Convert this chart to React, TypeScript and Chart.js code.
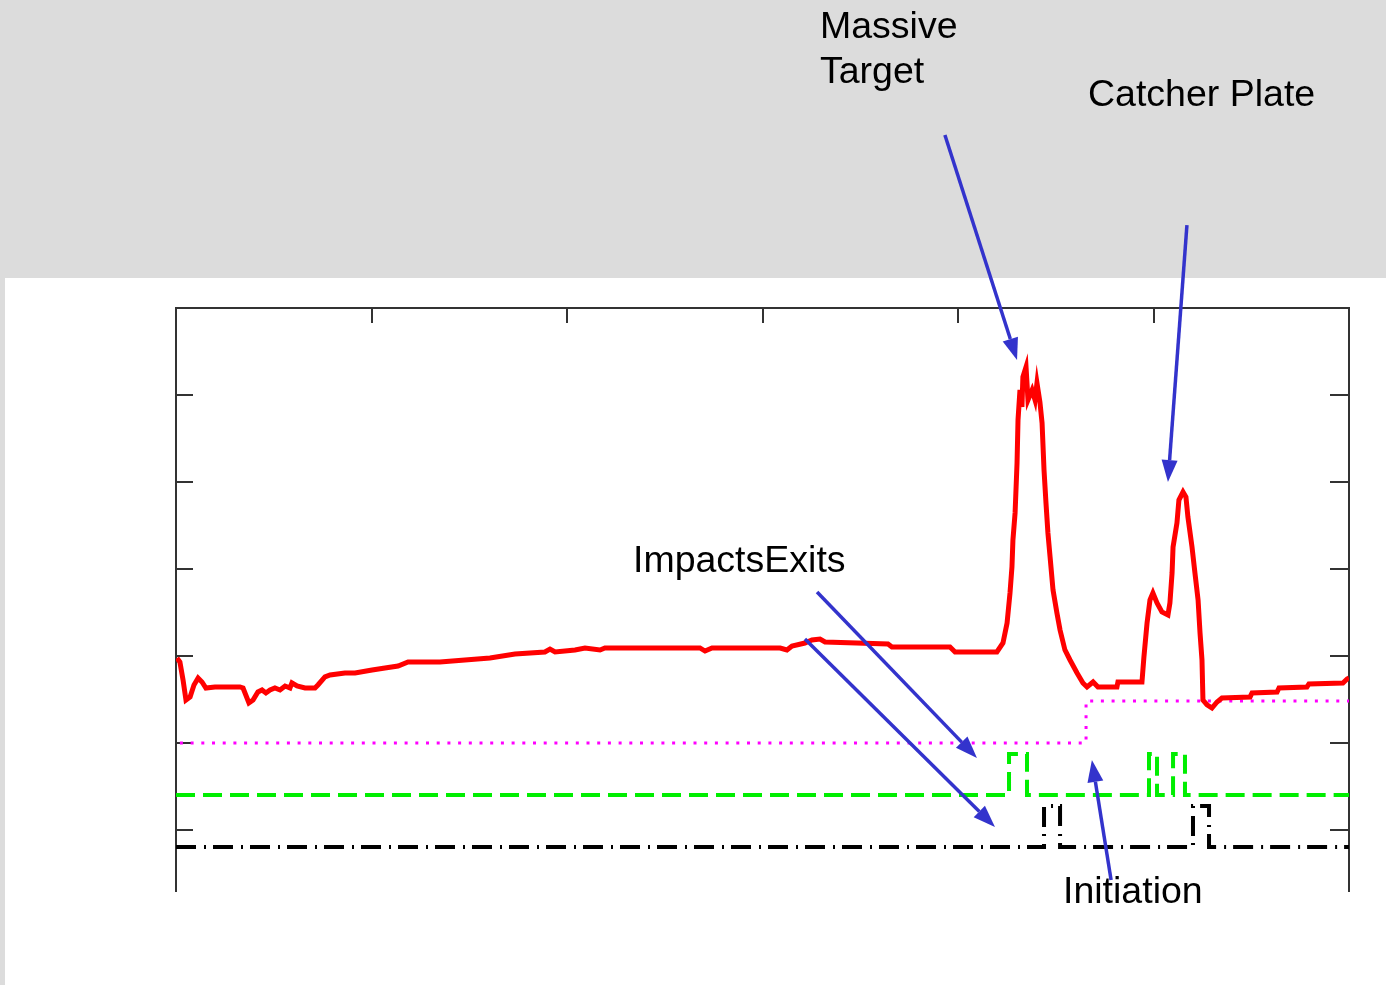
import React, { useEffect, useRef } from "react";
import { Chart, registerables } from "chart.js";

Chart.register(...registerables);

// ---- data (x: time units, y: signal units) ----
const redX = [0.005, 0.02, 0.036, 0.051, 0.072, 0.092, 0.113, 0.133, 0.153, 0.199, 0.327, 0.343, 0.373, 0.394, 0.419, 0.44, 0.46, 0.481, 0.506, 0.532, 0.558, 0.583, 0.593, 0.619, 0.66, 0.711, 0.726, 0.762, 0.788, 0.864, 0.916, 1.003, 1.069, 1.136, 1.187, 1.35, 1.478, 1.606, 1.734, 1.887, 1.913, 1.939, 2.041, 2.092, 2.169, 2.194, 2.68, 2.706, 2.742, 3.09, 3.125, 3.151, 3.217, 3.253, 3.294, 3.32, 3.642, 3.662, 3.959, 3.985, 4.199, 4.23, 4.251, 4.266, 4.276, 4.281, 4.292, 4.302, 4.307, 4.317, 4.327, 4.332, 4.348, 4.358, 4.379, 4.394, 4.404, 4.419, 4.43, 4.44, 4.45, 4.46, 4.471, 4.486, 4.506, 4.522, 4.547, 4.573, 4.609, 4.639, 4.66, 4.691, 4.716, 4.813, 4.818, 4.941, 4.951, 4.967, 4.982, 4.997, 5.018, 5.043, 5.074, 5.084, 5.095, 5.1, 5.12, 5.13, 5.151, 5.166, 5.176, 5.197, 5.212, 5.228, 5.238, 5.248, 5.253, 5.274, 5.299, 5.325, 5.35, 5.494, 5.504, 5.632, 5.642, 5.785, 5.795, 5.969, 5.99, 6.0];
const redY = [2.977, 2.931, 2.724, 2.494, 2.529, 2.667, 2.747, 2.701, 2.632, 2.644, 2.644, 2.632, 2.46, 2.494, 2.586, 2.609, 2.575, 2.609, 2.632, 2.609, 2.655, 2.632, 2.69, 2.655, 2.632, 2.632, 2.667, 2.759, 2.782, 2.805, 2.805, 2.839, 2.862, 2.885, 2.931, 2.931, 2.954, 2.977, 3.023, 3.046, 3.08, 3.046, 3.069, 3.092, 3.069, 3.092, 3.092, 3.057, 3.092, 3.092, 3.069, 3.115, 3.149, 3.184, 3.195, 3.161, 3.138, 3.103, 3.103, 3.046, 3.046, 3.149, 3.379, 3.724, 4.023, 4.333, 4.644, 5.218, 5.713, 6.057, 5.862, 6.207, 6.322, 5.943, 6.057, 5.943, 6.138, 5.92, 5.678, 5.138, 4.759, 4.414, 4.138, 3.759, 3.494, 3.299, 3.069, 2.954, 2.805, 2.69, 2.644, 2.701, 2.644, 2.644, 2.701, 2.701, 2.989, 3.379, 3.644, 3.724, 3.609, 3.506, 3.471, 3.609, 3.954, 4.253, 4.529, 4.793, 4.885, 4.828, 4.598, 4.253, 3.954, 3.644, 3.264, 2.954, 2.494, 2.437, 2.402, 2.471, 2.517, 2.529, 2.575, 2.586, 2.632, 2.644, 2.678, 2.69, 2.736, 2.747];

const magentaX = [0.02, 4.655, 4.655, 6.0];
const magentaY = [2.0, 2.0, 2.483, 2.483];

const greenX = [0, 4.261, 4.261, 4.353, 4.353, 4.977, 4.977, 5.018, 5.018, 5.1, 5.1, 5.161, 5.161, 6.0];
const greenY = [1.402, 1.402, 1.874, 1.874, 1.402, 1.402, 1.874, 1.874, 1.402, 1.402, 1.874, 1.874, 1.402, 1.402];

const blackX = [0, 4.44, 4.44, 4.522, 4.522, 5.202, 5.202, 5.284, 5.284, 6.0];
const blackY = [0.805, 0.805, 1.276, 1.276, 0.805, 0.805, 1.276, 1.276, 0.805, 0.805];

const xTicks = [1, 2, 3, 4, 5];
const yTicks = [1, 2, 3, 4, 5, 6];

// annotation arrows in data coordinates: [tailX, tailY, tipX, tipY]
const arrows = [
  [3.933, 8.989, 4.302, 6.402],
  [5.171, 7.954, 5.074, 5.0],
  [3.279, 3.736, 4.097, 1.828],
  [3.217, 3.195, 4.189, 1.034],
  [4.783, 0.425, 4.685, 1.805],
];

const labels = [
  { text: "Massive", left: 820, top: 7 },
  { text: "Target", left: 820, top: 52 },
  { text: "Catcher Plate", left: 1088, top: 75 },
  { text: "ImpactsExits", left: 633, top: 541 },
  { text: "Initiation", left: 1063, top: 872 },
];

const zip = (xs: number[], ys: number[]) => xs.map((x, i) => ({ x, y: ys[i] }));

const framePlugin = {
  id: "frame",
  beforeDatasetsDraw(chart: any) {
    const { ctx, chartArea, scales } = chart;
    const { left, top, right, bottom } = chartArea;
    ctx.save();
    ctx.strokeStyle = "#333333";
    ctx.lineWidth = 2;
    ctx.beginPath();
    ctx.moveTo(left, bottom);
    ctx.lineTo(left, top);
    ctx.lineTo(right, top);
    ctx.lineTo(right, bottom);
    ctx.stroke();
    ctx.beginPath();
    xTicks.forEach((v) => {
      const px = Math.round(scales.x.getPixelForValue(v));
      ctx.moveTo(px, top);
      ctx.lineTo(px, top + 15);
    });
    yTicks.forEach((v) => {
      const py = Math.round(scales.y.getPixelForValue(v));
      ctx.moveTo(left, py);
      ctx.lineTo(left + 17, py);
      ctx.moveTo(right, py);
      ctx.lineTo(right - 19, py);
    });
    ctx.stroke();
    ctx.restore();
  },
  afterDatasetsDraw(chart: any) {
    const { ctx, scales } = chart;
    ctx.save();
    ctx.strokeStyle = "#3333cc";
    ctx.fillStyle = "#3333cc";
    ctx.lineWidth = 3.5;
    arrows.forEach(([tx, ty, hx, hy]) => {
      const x0 = scales.x.getPixelForValue(tx);
      const y0 = scales.y.getPixelForValue(ty);
      const x1 = scales.x.getPixelForValue(hx);
      const y1 = scales.y.getPixelForValue(hy);
      const ang = Math.atan2(y1 - y0, x1 - x0);
      const headLen = 22;
      const headW = 8;
      const bx = x1 - headLen * Math.cos(ang);
      const by = y1 - headLen * Math.sin(ang);
      ctx.beginPath();
      ctx.moveTo(x0, y0);
      ctx.lineTo(bx, by);
      ctx.stroke();
      ctx.beginPath();
      ctx.moveTo(x1, y1);
      ctx.lineTo(bx + headW * Math.sin(ang), by - headW * Math.cos(ang));
      ctx.lineTo(bx - headW * Math.sin(ang), by + headW * Math.cos(ang));
      ctx.closePath();
      ctx.fill();
    });
    ctx.restore();
  },
};

export default function App() {
  const canvasRef = useRef<HTMLCanvasElement | null>(null);

  useEffect(() => {
    const canvas = canvasRef.current;
    if (!canvas) return;
    const chart = new Chart(canvas, {
      type: "line",
      data: {
        datasets: [
          {
            label: "signal",
            data: zip(redX, redY),
            borderColor: "#ff0000",
            borderWidth: 5,
            pointRadius: 0,
            tension: 0,
            fill: false,
          },
          {
            label: "initiation",
            data: zip(magentaX, magentaY),
            borderColor: "#ff00ff",
            borderWidth: 3,
            borderDash: [3, 7.7],
            pointRadius: 0,
            tension: 0,
            fill: false,
          },
          {
            label: "impacts",
            data: zip(greenX, greenY),
            borderColor: "#00ee00",
            borderWidth: 4,
            borderDash: [19, 8],
            pointRadius: 0,
            tension: 0,
            fill: false,
          },
          {
            label: "exits",
            data: zip(blackX, blackY),
            borderColor: "#000000",
            borderWidth: 4,
            borderDash: [20, 8, 2, 7],
            pointRadius: 0,
            tension: 0,
            fill: false,
          },
        ],
      },
      options: {
        animation: false,
        responsive: false,
        maintainAspectRatio: false,
        devicePixelRatio: 1,
        layout: { padding: { left: 176, top: 308, right: 37, bottom: 93 } },
        plugins: { legend: { display: false }, tooltip: { enabled: false } },
        events: [],
        scales: {
          x: { type: "linear", min: 0, max: 6, display: false },
          y: { type: "linear", min: 0.287, max: 7, display: false },
        },
      },
      plugins: [framePlugin],
    });
    return () => chart.destroy();
  }, []);

  return (
    <div
      style={{
        position: "fixed",
        left: 0,
        top: 0,
        width: 1386,
        height: 985,
        overflow: "hidden",
        background: "#dcdcdc",
        fontFamily: '"Liberation Sans", Arial, sans-serif',
      }}
    >
      <div
        style={{
          position: "absolute",
          left: 5,
          top: 278,
          width: 1381,
          height: 707,
          background: "#ffffff",
        }}
      />
      <canvas
        ref={canvasRef}
        width={1386}
        height={985}
        style={{ position: "absolute", left: 0, top: 0, width: 1386, height: 985, display: "block" }}
      />
      {labels.map((l) => (
        <div
          key={l.text}
          style={{
            position: "absolute",
            left: l.left,
            top: l.top,
            fontSize: 37.5,
            lineHeight: "37px",
            color: "#000",
            whiteSpace: "nowrap",
          }}
        >
          {l.text}
        </div>
      ))}
    </div>
  );
}
